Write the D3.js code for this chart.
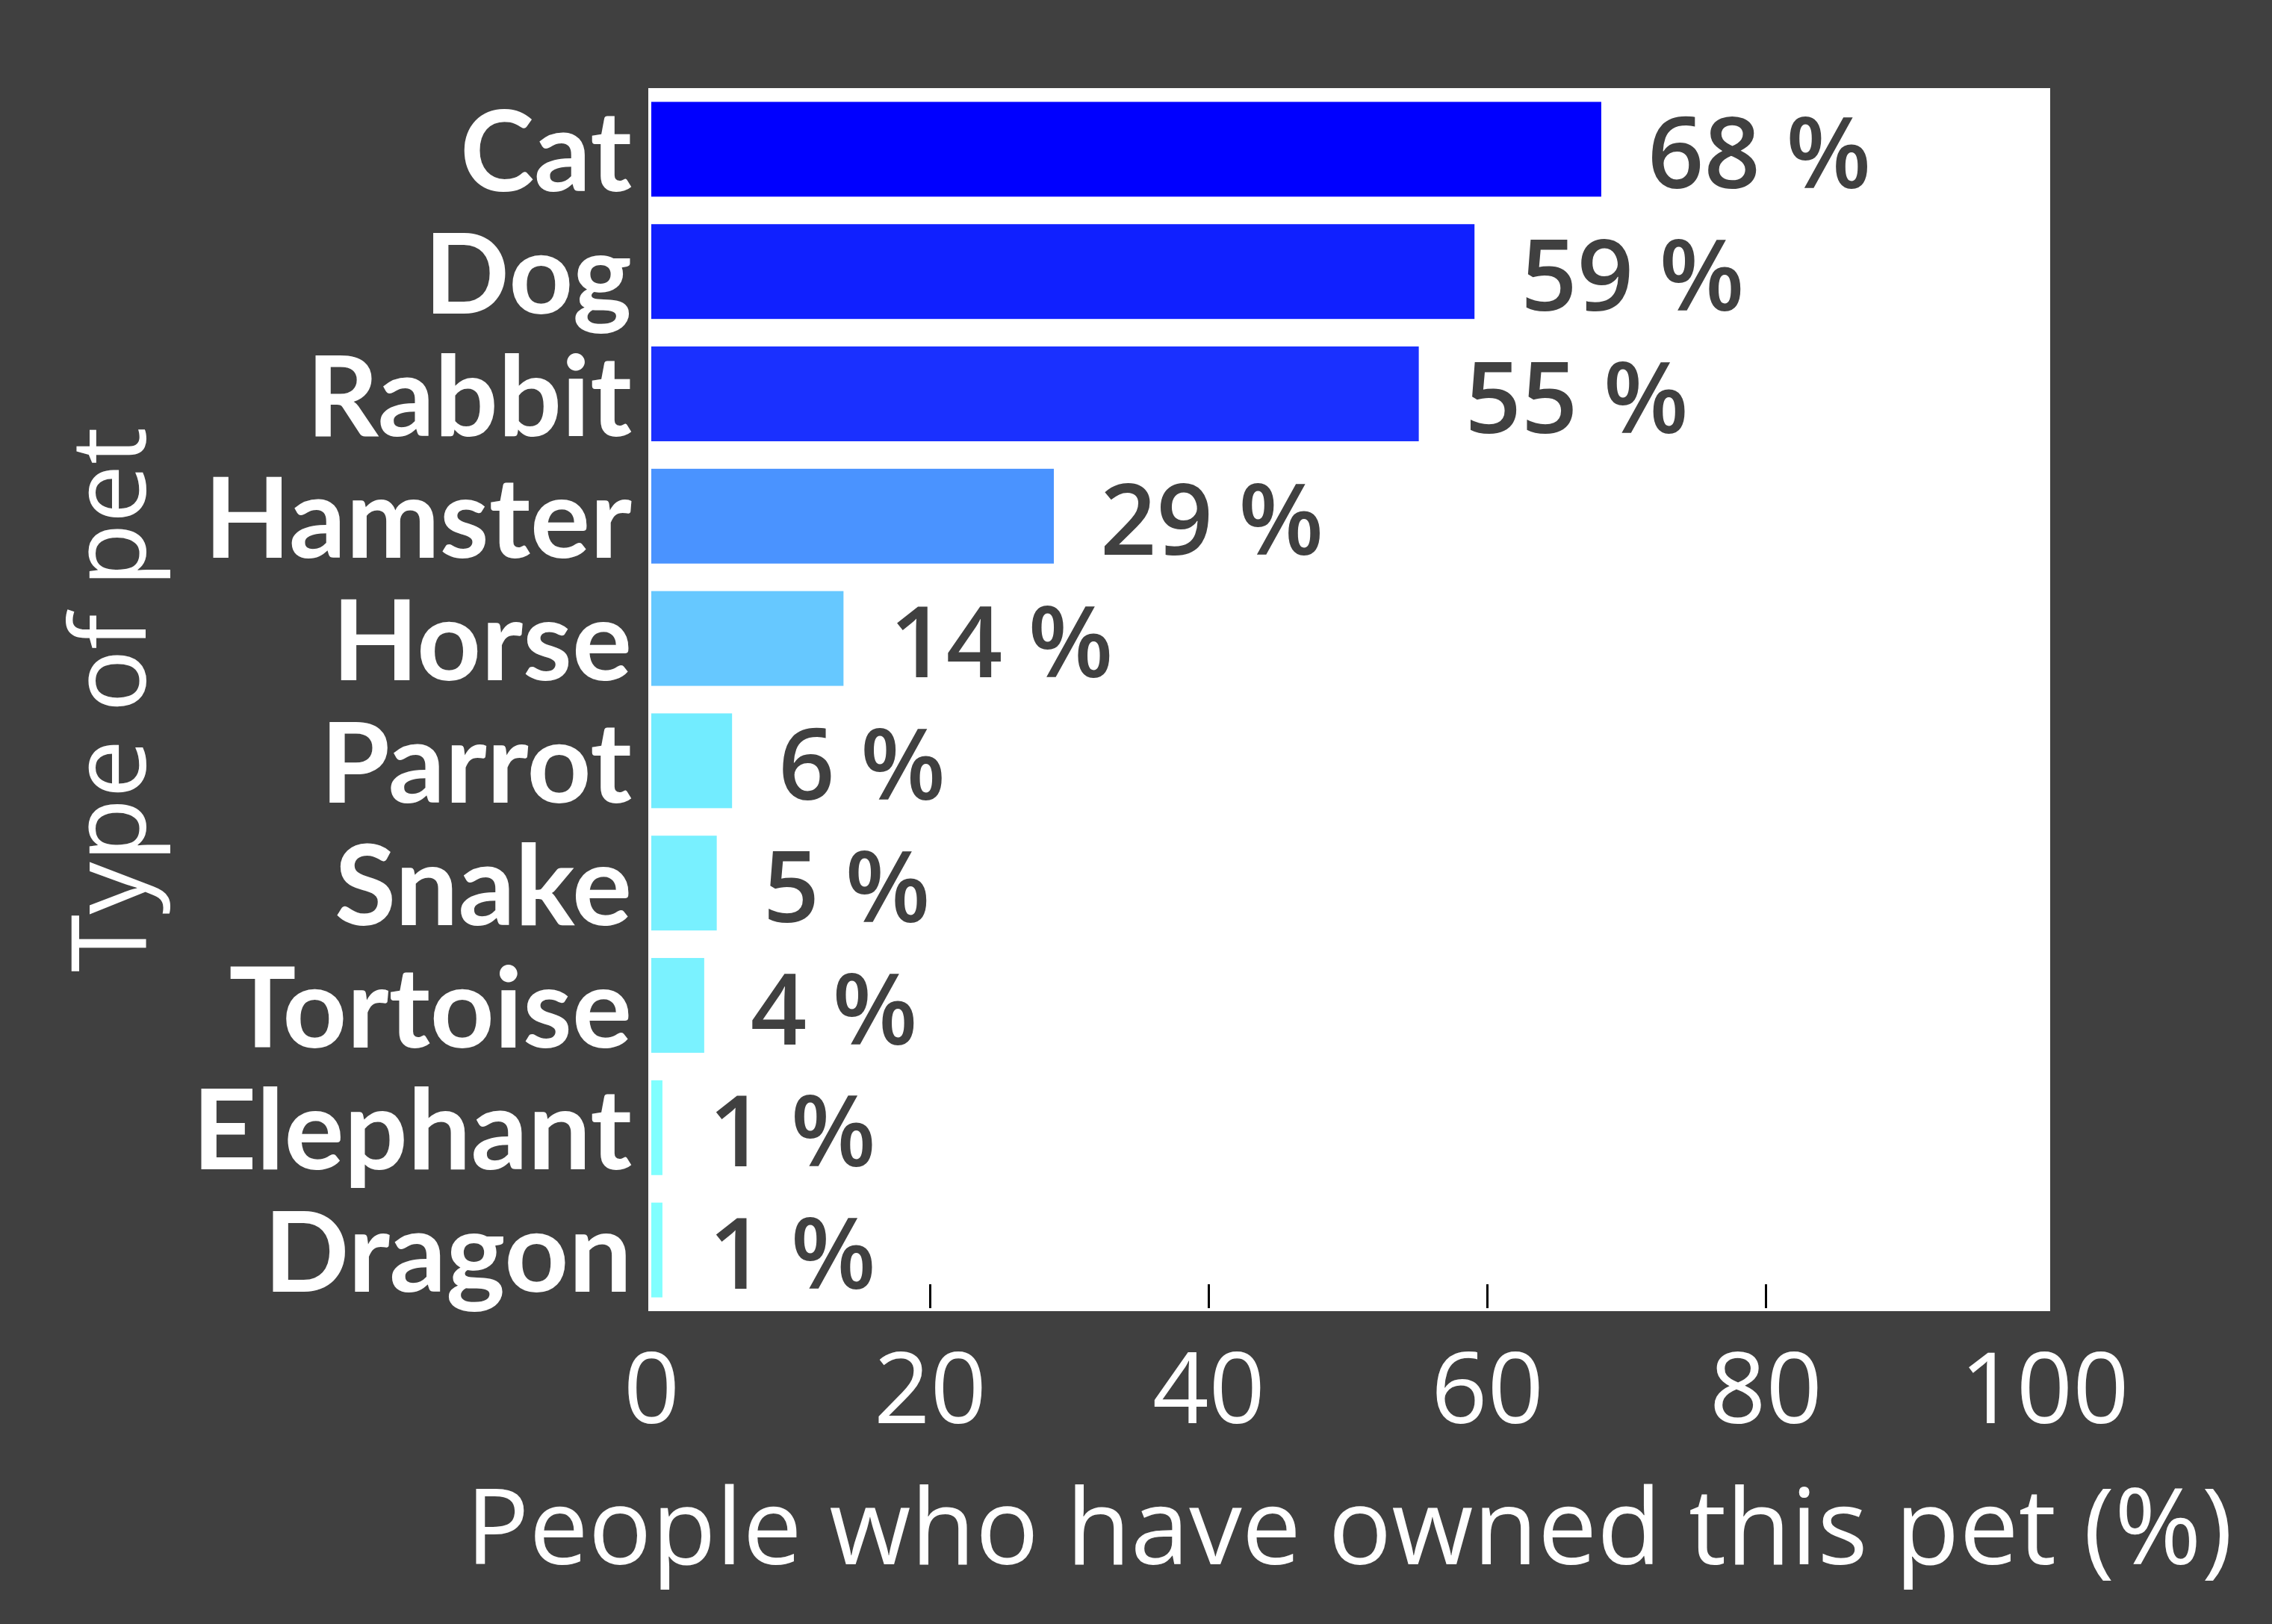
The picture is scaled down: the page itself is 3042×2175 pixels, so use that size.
<!DOCTYPE html>
<html>
<head>
<meta charset="utf-8">
<script src="https://cdn.jsdelivr.net/npm/d3@7"></script>
<style>
  body { margin: 0; background: #404040; }
  svg { display: block; }
  text { font-family: "Open Sans", "Noto Sans", sans-serif; }
</style>
</head>
<body>
<div id="chart"></div>
<script>
var pets = ["Cat", "Dog", "Rabbit", "Hamster", "Horse", "Parrot", "Snake", "Tortoise", "Elephant", "Dragon"];
var owned = [68.2, 59.1, 55.1, 28.9, 13.8, 5.8, 4.7, 3.8, 0.8, 0.8];
var xTicks = [0, 20, 40, 60, 80, 100];
var barColors = ["#0000ff", "#1020ff", "#1a30ff", "#4a93ff", "#66c8ff",
                 "#72ecff", "#78f0ff", "#7af2ff", "#80ffff", "#80ffff"];

var W = 3042, H = 2175;
var plot = {left: 868, right: 2745, top: 118, bottom: 1756};

var data = pets.map(function(p, i) { return {pet: p, value: owned[i], color: barColors[i]}; });

var svg = d3.select("#chart").append("svg")
    .attr("width", W)
    .attr("height", H);

svg.append("rect")
    .attr("width", W).attr("height", H)
    .attr("fill", "#404040");

// white axes background
svg.append("rect")
    .attr("x", plot.left).attr("y", plot.top)
    .attr("width", plot.right - plot.left)
    .attr("height", plot.bottom - plot.top)
    .attr("fill", "#ffffff");

var xScale = d3.scaleLinear()
    .domain([0, 100])
    .range([872, 2737]);

var yScale = d3.scaleBand()
    .domain(pets)
    .range([plot.top, plot.bottom])
    .paddingInner(0.225)
    .paddingOuter(0.1125);

// bars
svg.selectAll(".bar")
  .data(data)
  .enter().append("rect")
    .attr("class", "bar")
    .attr("x", xScale(0))
    .attr("y", function(d) { return yScale(d.pet); })
    .attr("width", function(d) { return xScale(d.value) - xScale(0); })
    .attr("height", yScale.bandwidth())
    .attr("fill", function(d) { return d.color; });

// value labels
svg.selectAll(".val")
  .data(data)
  .enter().append("text")
    .attr("class", "val")
    .attr("x", function(d) { return xScale(d.value) + 62; })
    .attr("y", function(d) { return yScale(d.pet) + yScale.bandwidth() / 2 + 52; })
    .attr("fill", "#404040")
    .attr("font-size", 132)
    .attr("font-weight", 600)
    .text(function(d) { return Math.round(d.value) + " %"; });

// category labels
svg.selectAll(".cat")
  .data(data)
  .enter().append("text")
    .attr("class", "cat")
    .attr("x", plot.left - 22)
    .attr("y", function(d) { return yScale(d.pet) + yScale.bandwidth() / 2 + 56; })
    .attr("text-anchor", "end")
    .attr("fill", "#ffffff")
    .attr("font-size", 150)
    .attr("font-weight", 700)
    .style("font-family", "Lato, sans-serif")
    .text(function(d) { return d.pet; });

// x axis: inward ticks, labels below
var xAxis = svg.append("g")
    .attr("transform", "translate(0," + plot.bottom + ")")
    .call(d3.axisBottom(xScale).tickValues(xTicks).tickSizeInner(-32).tickSizeOuter(0).tickPadding(0));

xAxis.select(".domain").remove();
xAxis.selectAll(".tick line")
    .attr("stroke", "#000000")
    .attr("stroke-width", 3)
    .attr("transform", "translate(0,-4)")
    .style("display", function(d) { return (d === 0 || d === 100) ? "none" : null; });
xAxis.selectAll(".tick text")
    .attr("y", 150)
    .attr("dy", null)
    .attr("fill", "#ffffff")
    .attr("font-size", 132)
    .attr("font-weight", 500)
    .attr("font-family", "\"Open Sans\", sans-serif");

// axis titles
svg.append("text")
    .attr("x", (plot.left + plot.right) / 2)
    .attr("y", 2095)
    .attr("text-anchor", "middle")
    .attr("fill", "#ffffff")
    .attr("font-size", 141)
    .attr("font-weight", 500)
    .text("People who have owned this pet (%)");

svg.append("text")
    .attr("transform", "translate(195," + (plot.top + plot.bottom) / 2 + ") rotate(-90)")
    .attr("text-anchor", "middle")
    .attr("fill", "#ffffff")
    .attr("font-size", 140)
    .attr("font-weight", 500)
    .text("Type of pet");
</script>
</body>
</html>
